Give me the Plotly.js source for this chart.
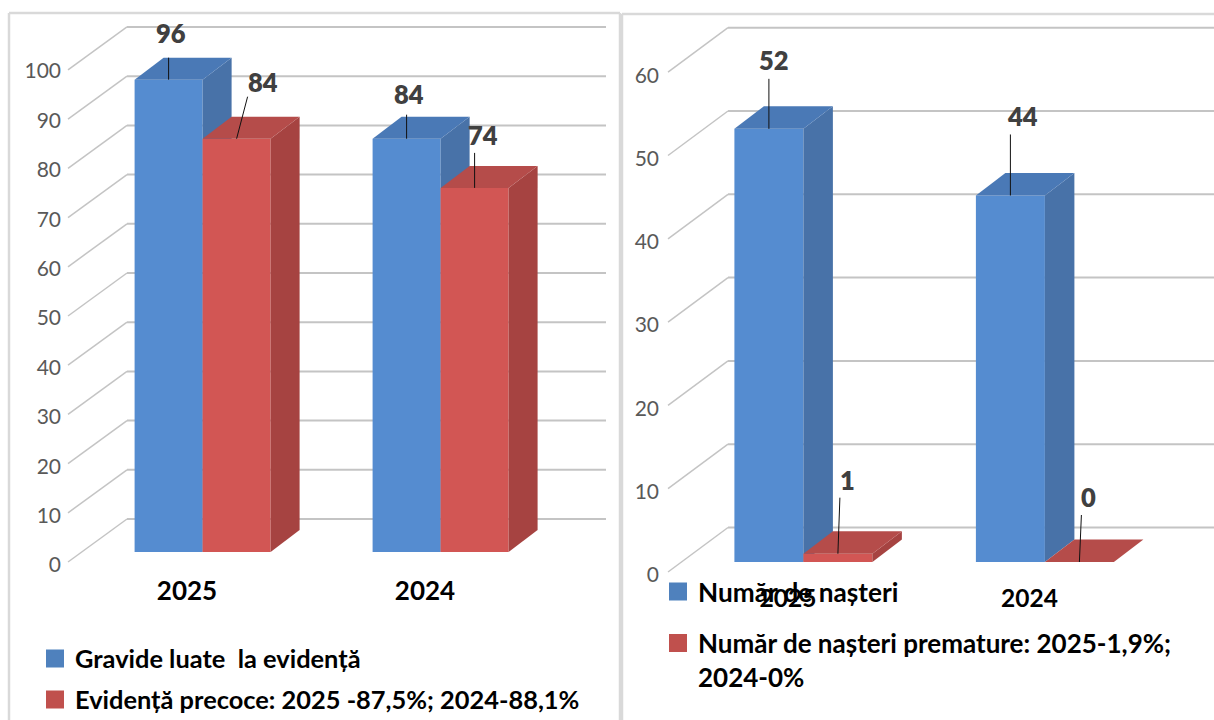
<!DOCTYPE html>
<html><head><meta charset="utf-8">
<script src="https://cdn.plot.ly/plotly-3.0.1.min.js"></script>
<style>html,body{margin:0;padding:0;background:#fff;overflow:hidden}#c{width:1214px;height:720px}</style>
</head><body><div id="c"></div>
<script>
const categories = ['2025', '2024'];
const gravideLuate = [96, 84];
const evidentaPrecoce = [84, 74];
const nasteri = [52, 44];
const nasteriPremature = [1, 0];
const leftTicks = [0, 10, 20, 30, 40, 50, 60, 70, 80, 90, 100];
const rightTicks = [0, 10, 20, 30, 40, 50, 60];
const legendNames = ['Gravide luate  la evidență', 'Evidență precoce: 2025 -87,5%; 2024-88,1%', 'Număr de nașteri', 'Număr de nașteri premature: 2025-1,9%;<br>2024-0%'];

const W = 1214, H = 720;
const FONT = 'Lato, sans-serif';
const C = {
  blue: {front: '#558cd0', top: '#4a79b6', side: '#4872a8', legend: '#4f81bd'},
  red:  {front: '#d25654', top: '#b54c4a', side: '#a64341', legend: '#c0504d'},
  wall: '#c4c4c4', frame: '#d9d9d9', tick: '#595959', label: '#404040'
};

// Panel geometry: pixel frame of each plot and its projection of depth.
const panels = [
  {axes: [['x', 'y'], ['x2', 'y2']], domX: [66, 606], domY: [20, 573], x0: 187, xU: 238, y0: 562, yU: 4.94, k: 0.996, frontX: 68,
   wallDx: 59, wallDy: 43, barOff: 15.6, barBase: 10, barW: 68, depthX: 29, depthY: 22, ticks: leftTicks, series: [gravideLuate, evidentaPrecoce],
   tickSize: 26, standoff: 4, tickShift: 3,
   callouts: [[[2, 47, 0, 22], [2, 45, 0, 24]], [[26, 57, 11, 42], [8, 53, 0, 35]]]},
  {axes: [['x3', 'y3'], ['x4', 'y4']], domX: [664, 1214], domY: [20, 581], x0: 788, xU: 241.5, y0: 572, yU: 8.33, k: 1, frontX: 668,
   wallDx: 60, wallDy: 44.5, barOff: 15.4, barBase: 10, barW: 69, depthX: 29.5, depthY: 22.5, ticks: rightTicks, series: [nasteri, nasteriPremature],
   tickSize: 24.5, standoff: 4, tickShift: 3,
   callouts: [[[5, 69, 0, 50], [12, 79, 0, 61]], [[10, 74, 2, 56], [9, 65, 2, 47]]]}
];
const tones = [C.blue, C.red];

const data = [], shapes = [], annotations = [];
const layout = {width: W, height: H, margin: {l: 0, r: 0, t: 0, b: 0, autoexpand: false}, paper_bgcolor: '#fff', plot_bgcolor: 'rgba(0,0,0,0)',
  barmode: 'overlay', showlegend: true, hovermode: false, font: {family: FONT}};

const axKey = id => (id[0] === 'x' ? 'xaxis' : 'yaxis') + id.slice(1);

panels.forEach((p, pi) => {
  const xOf = px => (px - p.x0) / p.xU;
  const yOf = py => (p.y0 - py) / p.yU;
  const rangeX = [xOf(p.domX[0]), xOf(p.domX[1])];
  const rangeY = [yOf(p.domY[1]), yOf(p.domY[0])];
  const domainX = [p.domX[0] / W, p.domX[1] / W];
  const domainY = [1 - p.domY[1] / H, 1 - p.domY[0] / H];
  const wdx = p.wallDx / p.xU, wdy = p.wallDy / p.yU;
  const off = p.barOff / p.xU, base = p.barBase / p.yU, bw = p.barW / p.xU;
  const dx = p.depthX / p.xU, dy = p.depthY / p.yU;

  p.axes.forEach((ax, si) => {
    const [xa, ya] = ax;
    if (si === 0) {
      layout[axKey(xa)] = {domain: domainX, range: rangeX, anchor: ya, tickmode: 'array', tickvals: categories.map((c, i) => i), ticktext: categories,
        showgrid: false, zeroline: false, showline: false, ticks: '', tickfont: {family: FONT, size: p.tickSize, color: '#000', weight: 700}};
      layout[axKey(ya)] = {domain: domainY, range: rangeY, anchor: xa, tickmode: 'array', tickvals: p.ticks, showgrid: false, zeroline: false, showline: false,
        ticks: '', ticklabelstandoff: p.standoff, ticklabelshift: p.tickShift, tickfont: {family: FONT, size: 21, color: C.tick}};
    } else {
      const [bx, by] = p.axes[0];
      layout[axKey(xa)] = {domain: domainX, range: rangeX, anchor: ya, overlaying: bx, visible: false};
      layout[axKey(ya)] = {domain: domainY, range: rangeY, anchor: xa, overlaying: by, visible: false};
    }
    const vals = p.series[si], tone = tones[si];
    const lefts = vals.map((v, i) => i + off + (si - 1) * bw);
    const tops = vals.map(v => base + v * p.k);
    data.push({type: 'bar', x: lefts.map(l => l + bw / 2), y: vals.map(v => v * p.k), base: vals.map(() => base), width: bw, xaxis: xa, yaxis: ya,
      marker: {color: tone.front, line: {width: 0}}, showlegend: false, hoverinfo: 'skip', name: legendNames[pi * 2 + si]});
    vals.forEach((v, i) => {
      const l = lefts[i], r = l + bw, t = tops[i];
      data.push({type: 'scatter', mode: 'lines', xaxis: xa, yaxis: ya, showlegend: false, hoverinfo: 'skip', fill: 'toself', fillcolor: tone.side, line: {width: 0},
        x: [r, r + dx, r + dx, r, r], y: [base, base + dy, t + dy, t, base]});
      data.push({type: 'scatter', mode: 'lines', xaxis: xa, yaxis: ya, showlegend: false, hoverinfo: 'skip', fill: 'toself', fillcolor: tone.top, line: {width: 0},
        x: [l, r, r + dx, l + dx, l], y: [t, t, t + dy, t + dy, t]});
      const cx = l + bw / 2;
      const [tx, ty, lx, ly] = p.callouts[si][i];
      shapes.push({type: 'line', layer: 'above', xref: xa, yref: ya, xsizemode: 'pixel', ysizemode: 'pixel', xanchor: cx, yanchor: t, x0: 0, y0: 0, x1: lx, y1: ly,
        line: {color: '#111', width: 1}});
      annotations.push({xref: xa, yref: ya, x: cx, y: t, xshift: tx, yshift: ty, text: String(v), showarrow: false,
        font: {family: FONT, size: 25.5, color: C.label, weight: 800}});
    });
    const legendId = 'legend' + (pi * 2 + si === 0 ? '' : pi * 2 + si + 1);
    data.push({type: 'scatter', mode: 'markers', x: [null], y: [null], xaxis: xa, yaxis: ya, name: legendNames[pi * 2 + si], legend: legendId, showlegend: true, hoverinfo: 'skip',
      marker: {symbol: 'square', size: 16, color: tone.legend, line: {width: 2, color: tone.legend}}});
  });

  // back wall and side wall lines
  const [bx, by] = p.axes[0];
  const fx0 = xOf(p.frontX);
  p.ticks.forEach(v => {
    const fy = v * p.k, by2 = wdy + v * p.k;
    shapes.push({type: 'line', layer: 'below', xref: bx, yref: by, x0: fx0, y0: fy, x1: fx0 + wdx, y1: by2, line: {color: C.wall, width: 1.5}});
    shapes.push({type: 'line', layer: 'below', xref: bx, yref: by, x0: fx0 + wdx, y0: by2, x1: rangeX[1], y1: by2, line: {color: C.wall, width: 2}});
  });
});

// Frames of the two panels
const fx = px => px / W, fy = py => 1 - py / H;
[[9, 13, 9, 720], [9, 13, 620, 13], [620, 13, 620, 720], [622, 14, 1214, 14], [622, 14, 622, 720]].forEach(s =>
  shapes.push({type: 'line', layer: 'below', xref: 'paper', yref: 'paper', x0: fx(s[0]), y0: fy(s[1]), x1: fx(s[2]), y1: fy(s[3]), line: {color: C.frame, width: 2.5}}));

// One legend per entry so that each line lands where the reference has it
const legendPos = [[35, 659, 25.4], [35, 700, 25.4], [658, 592, 26.2], [658, 660, 26]];
legendPos.forEach((pos, i) => {
  layout['legend' + (i === 0 ? '' : i + 1)] = {x: fx(pos[0]), y: fy(pos[1]), xanchor: 'left', yanchor: 'middle', bgcolor: 'rgba(0,0,0,0)', borderwidth: 0,
    valign: 'top', font: {family: FONT, size: pos[2], color: '#000', weight: 700}};
});

layout.shapes = shapes;
layout.annotations = annotations;
Plotly.newPlot('c', data, layout, {displayModeBar: false, staticPlot: true});
</script></body></html>
